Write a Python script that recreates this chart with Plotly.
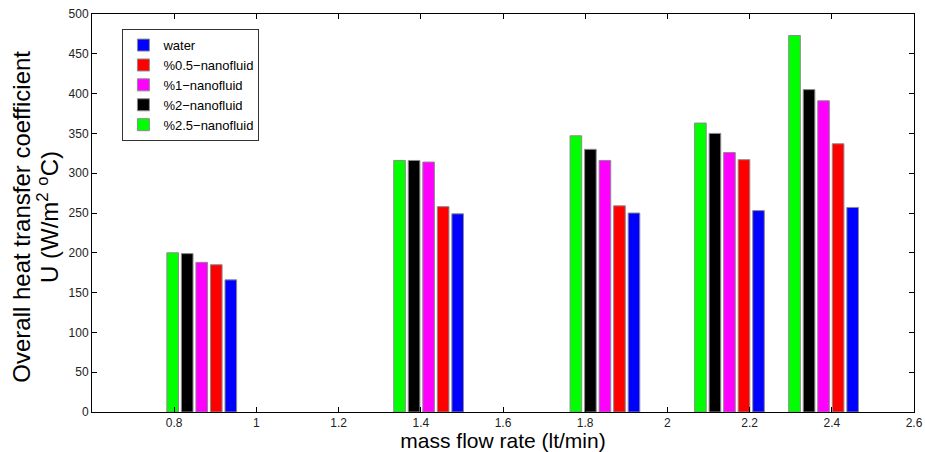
import plotly.graph_objects as go

flow_rate = [0.867, 1.419, 1.848, 2.151, 2.380]
water = [166, 249, 250, 253, 257]
nf_05 = [185, 258, 259, 317, 337]
nf_1 = [188, 314, 316, 326, 391]
nf_2 = [199, 316, 330, 350, 405]
nf_25 = [200, 316, 347, 363, 473]

x_ticks = [0.8, 1, 1.2, 1.4, 1.6, 1.8, 2, 2.2, 2.4, 2.6]
x_tick_text = ["0.8", "1", "1.2", "1.4", "1.6", "1.8", "2", "2.2", "2.4", "2.6"]
y_ticks = list(range(0, 501, 50))

y_title_lines = ["Overall heat transfer coefficient", "U (W/m<sup>2</sup> <sup>o</sup>C)"]
x_title = "mass flow rate (lt/min)"

series = [
    ("%2.5\u2212nanofluid", nf_25, "#00ff00"),
    ("%2\u2212nanofluid", nf_2, "#000000"),
    ("%1\u2212nanofluid", nf_1, "#ff00ff"),
    ("%0.5\u2212nanofluid", nf_05, "#ff0000"),
    ("water", water, "#0000ff"),
]

fig = go.Figure()
for name, vals, color in series:
    fig.add_trace(go.Bar(
        x=flow_rate, y=vals, name=name,
        marker=dict(color=color, line=dict(color="#8c8c8c", width=1)),
    ))

font_family = "Liberation Sans, Arial, Helvetica, sans-serif"

for text, xpos in zip(y_title_lines, [-0.0855, -0.0535]):
    fig.add_annotation(
        text=text, xref="paper", yref="paper", x=xpos, y=0.49,
        xanchor="center", yanchor="middle", textangle=-90, showarrow=False,
        font=dict(size=24, family=font_family, color="#000000"),
    )

fig.update_layout(
    width=925, height=452,
    margin=dict(l=92, r=11, t=14, b=40, autoexpand=False),
    paper_bgcolor="white", plot_bgcolor="white",
    barmode="group", bargap=0.228, bargroupgap=0.2,
    font=dict(family=font_family, color="#000000"),
    showlegend=True,
    legend=dict(
        traceorder="reversed",
        x=0.037, y=0.962, xanchor="left", yanchor="top",
        bgcolor="white", bordercolor="#333333", borderwidth=1,
        font=dict(size=13, family=font_family, color="#000000"),
        tracegroupgap=0, itemwidth=30,
    ),
    xaxis=dict(
        range=[0.6, 2.6], tickvals=x_ticks, ticktext=x_tick_text,
        automargin=False,
        showgrid=False, zeroline=False,
        showline=True, linecolor="#000000", linewidth=1, mirror="ticks",
        ticks="inside", ticklen=5, tickcolor="#000000",
        tickfont=dict(size=12, color="#222222"),
        title=dict(text=x_title, font=dict(size=21), standoff=2),
    ),
    yaxis=dict(
        range=[0, 500], tickvals=y_ticks,
        automargin=False,
        showgrid=False, zeroline=False,
        showline=True, linecolor="#000000", linewidth=1, mirror="ticks",
        ticks="inside", ticklen=5, tickcolor="#000000",
        tickfont=dict(size=12, color="#222222"),
    ),
)

fig.write_html(
    "out.html",
    config={"displayModeBar": False},
    post_script="document.body.style.margin='0px';document.body.style.overflow='hidden';",
)
